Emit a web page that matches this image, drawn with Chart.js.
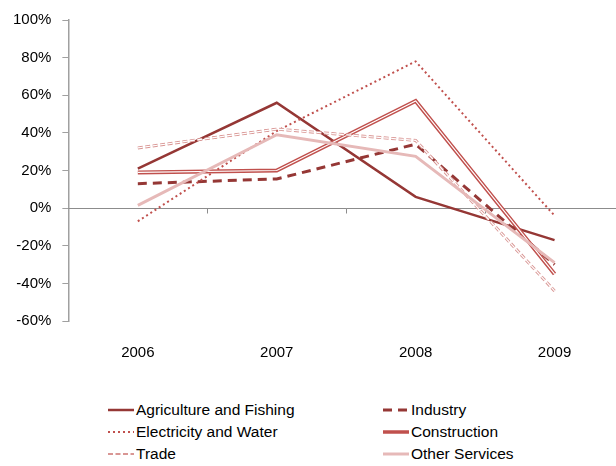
<!DOCTYPE html>
<html>
<head>
<meta charset="utf-8">
<script src="https://cdn.jsdelivr.net/npm/chart.js@4.4.0/dist/chart.umd.min.js"></script>
<style>
  html, body { margin: 0; padding: 0; background: #fff; }
  body { width: 616px; height: 466px; overflow: hidden; position: relative; font-family: "Liberation Sans", Arial, sans-serif; }
  #wrap { position: absolute; left: 0; top: 0; width: 616px; height: 385px; overflow: hidden; }
  #wrap canvas { display: block; }
  #legend { position: absolute; left: 0; top: 399px; width: 616px; }
  .item { position: absolute; display: flex; align-items: center; height: 22px; font-size: 15.5px; color: #000; white-space: nowrap; }
  .item svg { margin-right: 2px; }
</style>
</head>
<body>
<div id="wrap"><canvas id="chart" width="630" height="385"></canvas></div>
<div id="legend"></div>
<script>
// crecimiento anual por sector (%)
const years = ["2006", "2007", "2008", "2009"];
const agriculture = [21, 56, 6, -17];
const industry = [13, 15.5, 34, -30];
const electricity = [-7, 41, 78, -4];
const construction = [19, 20, 57, -35];
const trade = [32, 42, 36, -44];
const otherServices = [1.5, 39, 27.5, -29];

const yTicks = { min: -60, max: 100, step: 20 };

const DARK = "#953735";
const MID = "#c0504d";
const PINK = "#d99694";
const LIGHT = "#e6b9b8";
const AXIS = "#a0a0a0";
const ZERO = "#8c8c8c";

// series: label, data, style (legend uses the same style)
const series = [
  { label: "Agriculture and Fishing", data: agriculture, color: DARK, width: 2.5, dash: [] },
  { label: "Industry", data: industry, color: DARK, width: 3, dash: [9, 6] },
  { label: "Electricity and Water", data: electricity, color: MID, width: 2, dash: [2, 3] },
  { label: "Construction", data: construction, color: MID, width: 4, dash: [], inner: true },
  { label: "Trade", data: trade, color: PINK, width: 3, dash: [5, 2.5], inner: true },
  { label: "Other Services", data: otherServices, color: LIGHT, width: 3, dash: [] }
];

const datasets = [];
series.forEach((s, i) => {
  datasets.push({
    label: s.label,
    data: s.data,
    borderColor: s.color,
    borderWidth: s.width,
    borderDash: s.dash,
    pointRadius: 0,
    tension: 0,
    fill: false,
    order: 20 - i * 2
  });
  // doble trazo: linea blanca fina por dentro
  if (s.inner) {
    datasets.push({
      label: s.label + "_inner",
      data: s.data,
      borderColor: "#ffffff",
      borderWidth: 1.2,
      borderDash: s.dash,
      pointRadius: 0,
      tension: 0,
      fill: false,
      order: 19 - i * 2
    });
  }
});

// linea del 0% con marcas entre categorias
const zeroAxis = {
  id: "zeroAxis",
  beforeDatasetsDraw(chart) {
    const { ctx, chartArea, scales } = chart;
    const y0 = Math.round(scales.y.getPixelForValue(0)) + 0.5;
    ctx.save();
    ctx.strokeStyle = ZERO;
    ctx.lineWidth = 1;
    ctx.beginPath();
    ctx.moveTo(chartArea.left, y0);
    ctx.lineTo(chartArea.right, y0);
    const n = years.length;
    for (let i = 1; i < n; i++) {
      const x = Math.round((scales.x.getPixelForValue(i - 1) + scales.x.getPixelForValue(i)) / 2) + 0.5;
      ctx.moveTo(x, y0);
      ctx.lineTo(x, y0 + 5);
    }
    ctx.stroke();
    ctx.restore();
  }
};

new Chart(document.getElementById("chart"), {
  type: "line",
  data: { labels: years, datasets },
  plugins: [zeroAxis],
  options: {
    responsive: false,
    animation: false,
    layout: { padding: { top: 8, right: 6, left: 2, bottom: 0 } },
    plugins: { legend: { display: false }, tooltip: { enabled: false } },
    scales: {
      x: {
        type: "category",
        offset: true,
        grid: { display: false, drawTicks: false },
        border: { display: false },
        ticks: { color: "#000", font: { family: "Liberation Sans", size: 15 }, padding: 23 }
      },
      y: {
        min: yTicks.min,
        max: yTicks.max,
        ticks: {
          stepSize: yTicks.step,
          color: "#000",
          font: { family: "Liberation Sans", size: 15 },
          padding: 11,
          callback: (v) => v + "%"
        },
        grid: { drawOnChartArea: false, drawTicks: true, tickLength: 6, color: AXIS },
        border: { display: true, color: AXIS, width: 1.5 }
      }
    }
  }
});

// leyenda en dos columnas
const legend = document.getElementById("legend");
const colX = [108, 383];
series.forEach((s, i) => {
  const div = document.createElement("div");
  div.className = "item";
  div.style.left = colX[i % 2] + "px";
  div.style.top = Math.floor(i / 2) * 22 + "px";
  const dash = s.dash.length ? `stroke-dasharray="${s.dash.join(",")}"` : "";
  const w = s.label === "Construction" ? 3.5 : (s.inner ? 2 : s.width);
  div.innerHTML = `<svg width="26" height="10"><line x1="0" y1="5" x2="26" y2="5" stroke="${s.color}" stroke-width="${w}" ${dash}/></svg><span>${s.label}</span>`;
  legend.appendChild(div);
});
</script>
</body>
</html>
